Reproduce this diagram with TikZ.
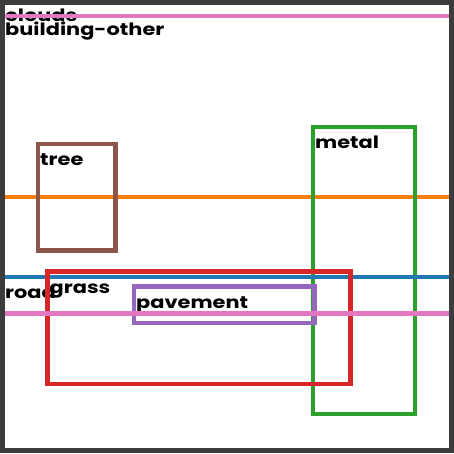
\documentclass[tikz,border=0pt]{standalone}
\usepackage{fontspec}
\setmainfont{Poppins}
\newfontfamily\lblfont{Poppins}[FakeStretch=1.23]
\usepackage{xcolor}
\definecolor{tabpink}{HTML}{E377C2}
\definecolor{taborange}{HTML}{FF7F0E}
\definecolor{tabblue}{HTML}{1F77B4}
\definecolor{tabgreen}{HTML}{2CA02C}
\definecolor{tabred}{HTML}{D62728}
\definecolor{tabpurple}{HTML}{9467BD}
\definecolor{tabbrown}{HTML}{8C564B}
\definecolor{frame}{HTML}{3C3C3C}

\begin{document}
\begin{tikzpicture}[
  x=1pt, y=-1pt,
  seg/.style={line width=4.5pt},
  lbl/.style={anchor=base west, inner sep=0pt, font=\lblfont\bfseries\fontsize{17}{19}\selectfont}
]
\useasboundingbox (0,0) rectangle (454,453);
\fill[frame] (0,0) rectangle (454,453);
\fill[white] (5,5) rectangle (449,448);

% wide regions, only their top edges show
\draw[seg, taborange] (5,197) -- (449,197);

% tree
\draw[seg, tabbrown] (38,144) rectangle (115.5,250.5);
\node[lbl] (tree) at (40,165.5) {tree};

% metal
\draw[seg, tabgreen] (313,127) rectangle (415,414);
\node[lbl] (metal) at (315,148.5) {metal};

% road
\draw[seg, tabblue] (5,277) -- (449,277);
\node[lbl] (road) at (5,298.5) {road};

% grass
\draw[seg, tabred] (47.5,271.5) rectangle (350.5,384);
\node[lbl] (grass) at (49.5,293) {grass};

% pavement
\draw[seg, tabpurple] (134,286.5) rectangle (314.5,323);
\node[lbl] (pavement) at (136,308) {pavement};

\draw[seg, tabpink] (5,313.5) -- (449,313.5);

% top of the picture
\node[lbl] (building) at (5,35) {building-other};
\node[lbl] (clouds) at (5,21) {clouds};
\draw[seg, tabpink] (5,16) -- (449,16);
\end{tikzpicture}
\end{document}
